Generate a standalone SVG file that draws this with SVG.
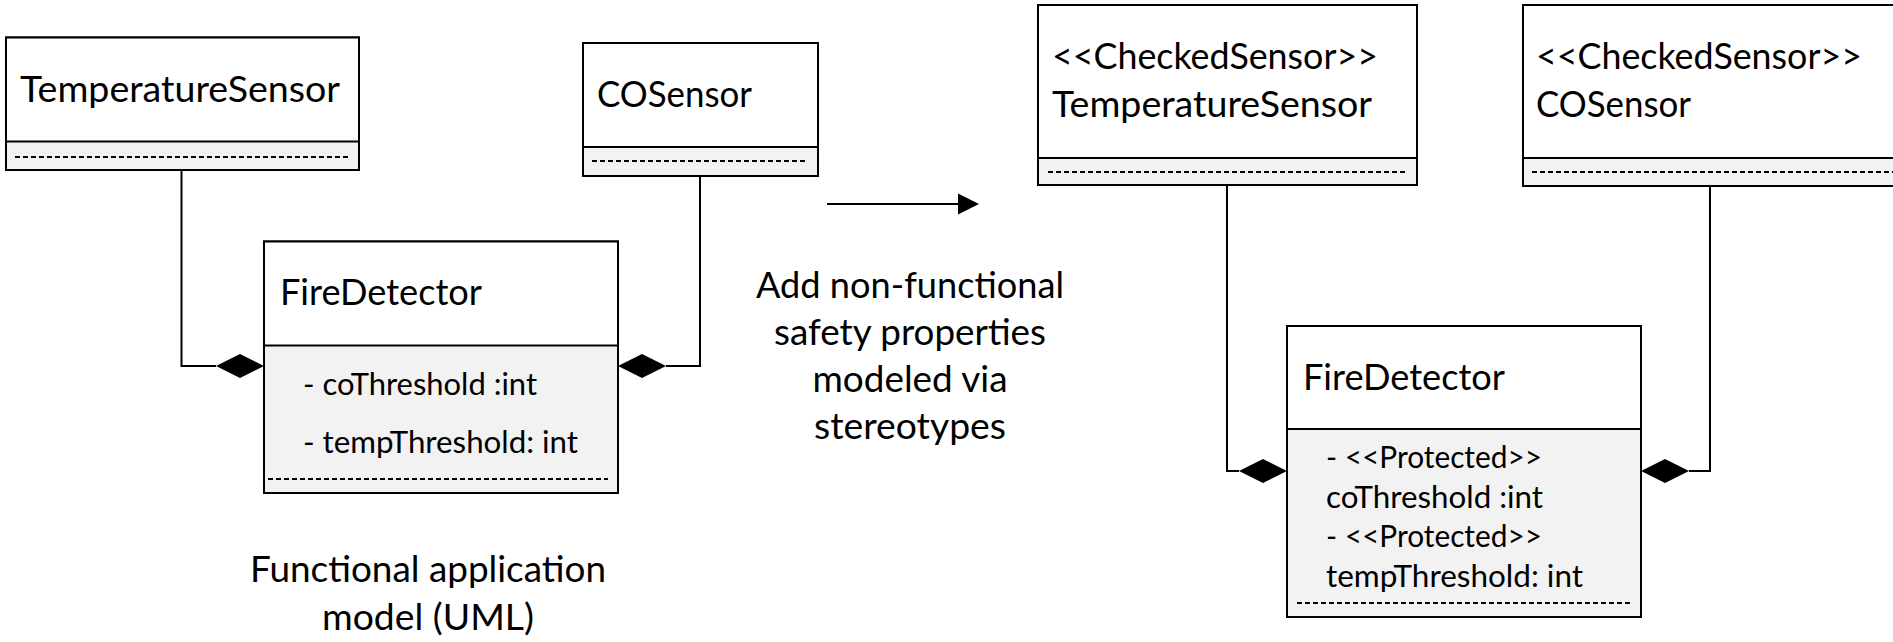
<svg xmlns="http://www.w3.org/2000/svg" width="1893" height="642" viewBox="0 0 1893 642">
<style>
.box{fill:#ffffff;stroke:#000;stroke-width:2}
.comp{fill:#f2f2f2;stroke:#000;stroke-width:2}
.dash{stroke:#000;stroke-width:2;stroke-dasharray:5 3;fill:none}
.t{font-family:Lato,"Open Sans","Liberation Sans",sans-serif;font-size:37px;fill:#000}
.s{font-family:Lato,"Open Sans","Liberation Sans",sans-serif;font-size:30.5px;fill:#000}
.c{text-anchor:middle}
.line{stroke:#000;stroke-width:2;fill:none}
</style>
<defs>
<polygon id="dia" points="0,0 24,-12 48,0 24,12" fill="#000"/>
</defs>
<rect width="1893" height="642" fill="#fff"/>

<g id="connectors">
<path class="line" d="M181.5 170 V366 H216"/>
<use href="#dia" x="216" y="366"/>
<path class="line" d="M700 176 V366 H666"/>
<use href="#dia" x="618" y="366"/>
<path class="line" d="M1227 186 V471 H1239"/>
<use href="#dia" x="1239" y="471"/>
<path class="line" d="M1710 186 V471 H1689"/>
<use href="#dia" x="1641" y="471"/>
<line class="line" x1="827" y1="204" x2="960" y2="204"/>
<polygon points="958,193.5 979,204 958,214.5" fill="#000"/>
</g>

<g id="TemperatureSensor1">
<rect class="comp" x="6" y="37.5" width="353" height="132.5"/>
<rect class="box" x="6" y="37.5" width="353" height="104"/>
<line class="dash" x1="15" y1="157" x2="350" y2="157"/>
<text class="t" x="20" y="102" textLength="320" lengthAdjust="spacingAndGlyphs">TemperatureSensor</text>
</g>

<g id="COSensor1">
<rect class="comp" x="583" y="43" width="235" height="133"/>
<rect class="box" x="583" y="43" width="235" height="104"/>
<line class="dash" x1="592" y1="161" x2="808" y2="161"/>
<text class="t" x="597" y="107" textLength="155" lengthAdjust="spacingAndGlyphs">COSensor</text>
</g>

<g id="FireDetector1">
<rect class="comp" x="264" y="241.5" width="354" height="251.5"/>
<rect class="box" x="264" y="241.5" width="354" height="104"/>
<line class="dash" x1="268" y1="479" x2="608" y2="479"/>
<text class="t" x="280" y="305" textLength="202" lengthAdjust="spacingAndGlyphs">FireDetector</text>
<text class="s" x="303" y="395" textLength="234" lengthAdjust="spacingAndGlyphs">- coThreshold :int</text>
<text class="s" x="303" y="453" textLength="275" lengthAdjust="spacingAndGlyphs">- tempThreshold: int</text>
</g>

<g id="label-transform">
<text class="t c" x="910" y="298" textLength="308" lengthAdjust="spacingAndGlyphs">Add non-functional</text>
<text class="t c" x="910" y="345" textLength="272" lengthAdjust="spacingAndGlyphs">safety properties</text>
<text class="t c" x="910" y="392" textLength="195" lengthAdjust="spacingAndGlyphs">modeled via</text>
<text class="t c" x="910" y="439" textLength="192" lengthAdjust="spacingAndGlyphs">stereotypes</text>
</g>

<g id="label-functional">
<text class="t c" x="428" y="582" textLength="356" lengthAdjust="spacingAndGlyphs">Functional application</text>
<text class="t c" x="428" y="630" textLength="212" lengthAdjust="spacingAndGlyphs">model (UML)</text>
</g>

<g id="TemperatureSensor2">
<rect class="comp" x="1038" y="5" width="379" height="180"/>
<rect class="box" x="1038" y="5" width="379" height="153"/>
<line class="dash" x1="1048" y1="172" x2="1407" y2="172"/>
<text class="t" x="1052" y="69" textLength="326" lengthAdjust="spacingAndGlyphs">&lt;&lt;CheckedSensor&gt;&gt;</text>
<text class="t" x="1052" y="117" textLength="320" lengthAdjust="spacingAndGlyphs">TemperatureSensor</text>
</g>

<g id="COSensor2">
<rect class="comp" x="1523" y="5" width="385" height="181"/>
<rect class="box" x="1523" y="5" width="385" height="153"/>
<line class="dash" x1="1532" y1="172" x2="1893" y2="172"/>
<text class="t" x="1536" y="69" textLength="326" lengthAdjust="spacingAndGlyphs">&lt;&lt;CheckedSensor&gt;&gt;</text>
<text class="t" x="1536" y="117" textLength="155" lengthAdjust="spacingAndGlyphs">COSensor</text>
</g>

<g id="FireDetector2">
<rect class="comp" x="1287" y="326" width="354" height="291"/>
<rect class="box" x="1287" y="326" width="354" height="103"/>
<line class="dash" x1="1297" y1="603" x2="1630" y2="603"/>
<text class="t" x="1303" y="390" textLength="202" lengthAdjust="spacingAndGlyphs">FireDetector</text>
<text class="s" x="1326" y="468" textLength="216" lengthAdjust="spacingAndGlyphs">- &lt;&lt;Protected&gt;&gt;</text>
<text class="s" x="1326" y="508" textLength="217" lengthAdjust="spacingAndGlyphs">coThreshold :int</text>
<text class="s" x="1326" y="547" textLength="216" lengthAdjust="spacingAndGlyphs">- &lt;&lt;Protected&gt;&gt;</text>
<text class="s" x="1326" y="587" textLength="257" lengthAdjust="spacingAndGlyphs">tempThreshold: int</text>
</g>
</svg>
